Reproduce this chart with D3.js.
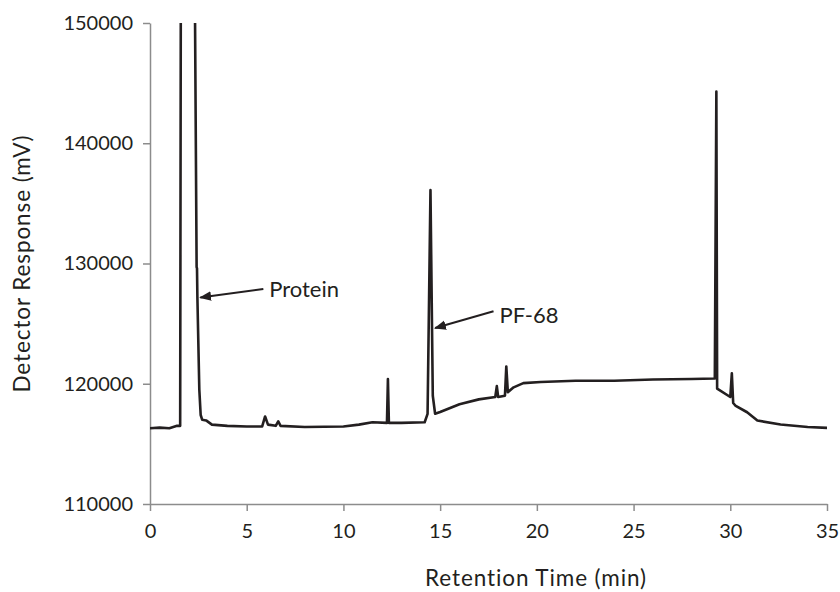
<!DOCTYPE html>
<html lang="en">
<head>
<meta charset="UTF-8">
<title>Chromatogram</title>
<script src="https://d3js.org/d3.v7.min.js"></script>
<style>
  body { margin: 0; background: #fff; }
  text { font-family: Lato, "Open Sans", sans-serif; fill: #231f20; }
</style>
</head>
<body>
<div id="chart"></div>
<script>
// Trace: retention time (min) and detector response (mV)
const times = [0, 0.5, 1.0, 1.4, 1.56, 1.6, 2.29, 2.41, 2.43, 2.45, 2.55, 2.62, 2.7, 2.9, 3.2,
  4.0, 5.0, 5.8, 5.95, 6.1, 6.5, 6.63, 6.75, 8.0, 10.0, 10.8, 11.5, 12.25, 12.3, 12.35, 13.0, 14.2, 14.35, 14.5, 14.62, 14.74,
  15.0, 16.0, 17.0, 17.85, 17.93, 18.0, 18.35, 18.42, 18.5, 18.8, 19.3, 20.2, 22.0, 24.0, 26.0, 28.0, 29.2, 29.28, 29.32,
  30.0, 30.08, 30.15, 30.26, 30.87, 31.4, 32.6, 34.0, 35.0];
const response = [116300, 116350, 116300, 116500, 116500, 160000, 160000, 129700, 129600, 127200, 119500, 117400, 117000, 116950, 116600,
  116500, 116450, 116450, 117280, 116600, 116500, 116880, 116500, 116400, 116450, 116600, 116800, 116750, 120400, 116750, 116750, 116800, 117500, 136100, 119000, 117500,
  117650, 118300, 118700, 118900, 119800, 118900, 119000, 121440, 119300, 119700, 120050, 120150, 120250, 120250, 120350, 120400, 120440, 144300, 119600,
  118900, 120860, 118400, 118190, 117630, 116940, 116610, 116400, 116330];

const xTicks = [0, 5, 10, 15, 20, 25, 30, 35];
const yTicks = [110000, 120000, 130000, 140000, 150000];

// Annotations: label, text anchor (min, mV), arrow tail and head
const labels = ["Protein", "PF-68"];
const labelPos = [[6.16, 127220], [18.07, 125050]];
const arrowFrom = [[5.86, 127880], [17.76, 126030]];
const arrowTo = [[2.6, 127170], [14.74, 124630]];

const W = 840, H = 592;
const margin = { top: 23, right: 13, bottom: 88, left: 150 };
const width = W - margin.left - margin.right;
const height = H - margin.top - margin.bottom;

const svg = d3.select("#chart").append("svg")
  .attr("width", W).attr("height", H);
const g = svg.append("g").attr("transform", `translate(${margin.left},${margin.top})`);

const x = d3.scaleLinear().domain([0, 35]).range([0, width]);
const y = d3.scaleLinear().domain([110000, 150000]).range([height, 0]);

const axisColor = "#8c8c8c";

// x axis
g.append("g")
  .attr("transform", `translate(0,${height})`)
  .call(d3.axisBottom(x).tickValues(xTicks).tickSize(7).tickSizeOuter(0).tickPadding(13))
  .call(a => a.select(".domain").attr("stroke", axisColor).attr("stroke-width", 1.5))
  .call(a => a.selectAll(".tick line").attr("stroke", axisColor).attr("stroke-width", 1.5))
  .call(a => a.selectAll(".tick text").attr("font-size", 20).attr("fill", "#231f20"));

// y axis
g.append("g")
  .call(d3.axisLeft(y).tickValues(yTicks).tickSize(7).tickSizeOuter(0).tickPadding(10).tickFormat(d3.format("d")))
  .call(a => a.select(".domain").attr("stroke", axisColor).attr("stroke-width", 1.5))
  .call(a => a.selectAll(".tick line").attr("stroke", axisColor).attr("stroke-width", 1.5))
  .call(a => a.selectAll(".tick text").attr("font-size", 20).attr("fill", "#231f20"));

// axis titles
svg.append("text")
  .attr("x", 536).attr("y", 586)
  .attr("text-anchor", "middle").attr("font-size", 22.5)
  .attr("letter-spacing", 0.9)
  .text("Retention Time (min)");

svg.append("text")
  .attr("transform", `translate(30,${margin.top + height / 2}) rotate(-90)`)
  .attr("text-anchor", "middle").attr("font-size", 22.5)
  .attr("letter-spacing", 0.9)
  .text("Detector Response (mV)");

// trace, clipped to the plot area
svg.append("defs").append("clipPath").attr("id", "plot")
  .append("rect").attr("x", 0).attr("y", 0).attr("width", width).attr("height", height);

const points = times.map((t, i) => [t, response[i]]);
g.append("path")
  .datum(points)
  .attr("clip-path", "url(#plot)")
  .attr("fill", "none")
  .attr("stroke", "#231f20")
  .attr("stroke-width", 2.6)
  .attr("stroke-linejoin", "round")
  .attr("d", d3.line().x(d => x(d[0])).y(d => y(d[1])));

// arrowhead
svg.select("defs").append("marker")
  .attr("id", "head").attr("viewBox", "0 0 10 10")
  .attr("refX", 9).attr("refY", 5)
  .attr("markerWidth", 6).attr("markerHeight", 6)
  .attr("markerUnits", "strokeWidth")
  .attr("orient", "auto")
  .append("path").attr("d", "M0,1 L10,5 L0,9 Z").attr("fill", "#231f20");

labels.forEach((lab, i) => {
  g.append("line")
    .attr("x1", x(arrowFrom[i][0])).attr("y1", y(arrowFrom[i][1]))
    .attr("x2", x(arrowTo[i][0])).attr("y2", y(arrowTo[i][1]))
    .attr("stroke", "#231f20").attr("stroke-width", 2)
    .attr("marker-end", "url(#head)");
  g.append("text")
    .attr("x", x(labelPos[i][0])).attr("y", y(labelPos[i][1]))
    .attr("font-size", 22)
    .text(lab);
});
</script>
</body>
</html>
